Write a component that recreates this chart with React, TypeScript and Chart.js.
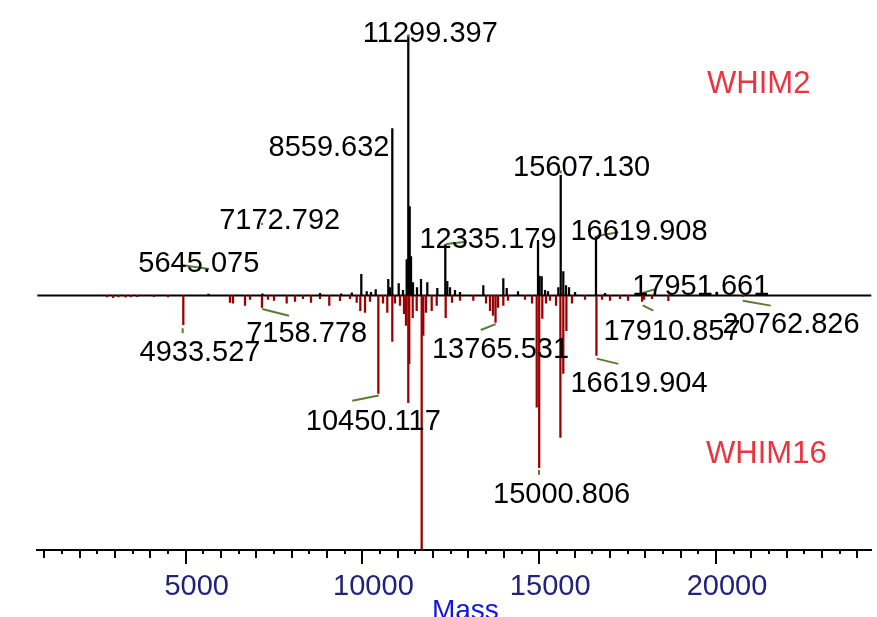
import React, { useEffect, useRef } from "react";
import { Chart, registerables } from "chart.js";

Chart.register(...registerables);

// ---- axis range and tick labels ----
const massMin = 800;
const massMax = 24400;
const intMin = -97.9;
const intMax = 113.65;
const xTickLabels = [5000, 10000, 15000, 20000];
const minorTickStart = 1000;
const minorTickEnd = 24000;
const minorTickStep = 500;

// ---- WHIM2 (upper, black) ----
const whim2Mass = [
  5645, 7172, 8800, 9400, 9700, 9968, 10121, 10242, 10375, 10731, 10780, 10845,
  11026, 11147, 11252, 11297, 11337, 11374, 11430, 11543, 11657, 11835, 12118,
  12344, 12400, 12477, 12618, 12760, 13419, 13985, 14081, 14401, 14967, 15010,
  15071, 15165, 15249, 15541, 15609, 15682, 15758, 15844, 16014, 16607, 16862,
  17951,
];
const whim2Int = [
  0.5, 0.6, 0.8, 0.6, 1.0, 8.1, 1.5, 1.2, 2.3, 6.2, 3.0, 64.2,
  4.6, 2.0, 13.8, 100, 34.2, 15.0, 5.0, 3.0, 6.2, 5.0, 2.7,
  19.6, 5.4, 3.0, 2.0, 1.2, 3.8, 6.5, 2.7, 1.5, 21.2, 7.5,
  7.3, 2.0, 1.5, 3.0, 46.2, 9.2, 3.8, 3.0, 1.2, 22.7, 0.8,
  1.2,
];

// ---- WHIM16 (lower, dark red, mirrored) ----
const whim16Mass = [
  2775, 2950, 3100, 3300, 3450, 3625, 4100, 4500, 4933, 6253, 6338, 6678, 6819,
  7158, 7328, 7498, 7857, 8092, 8318, 8545, 8799, 9062, 9365, 9648, 9838, 9940,
  10073, 10214, 10450, 10582, 10703, 10845, 10921, 11062, 11176, 11232, 11297,
  11325, 11422, 11535, 11676, 11722, 11798, 11959, 12101, 12355, 12534, 12760,
  13136, 13496, 13609, 13694, 13765, 13835, 13985, 14118, 14599, 14797, 14930,
  15000, 15088, 15193, 15306, 15476, 15600, 15682, 15770, 15928, 16296, 16619,
  16777, 17003, 17286, 17513, 17910, 17965, 18192, 18653, 20763,
];
const whim16Int = [
  -0.6, -0.8, -0.6, -0.7, -0.6, -0.5, -0.5, -0.6, -11.2, -2.7, -3.0, -3.8, -1.5,
  -4.6, -1.5, -1.9, -3.0, -2.3, -1.2, -2.7, -1.2, -3.8, -2.0, -1.2, -2.7, -5.8,
  -6.5, -2.3, -37.7, -3.0, -6.5, -17.7, -3.0, -3.8, -7.0, -11.5, -41.2,
  -26.2, -8.5, -5.8, -105, -15.4, -6.5, -5.8, -3.8, -8.5, -2.7, -1.9,
  -1.9, -3.0, -5.8, -7.7, -10.4, -4.6, -3.8, -1.9, -1.5, -3.0, -43.0,
  -66.2, -8.8, -3.0, -1.9, -3.8, -54.6, -30.0, -13.5, -3.0, -1.5, -23.1,
  -1.5, -1.9, -1.2, -1.9, -2.3, -1.5, -1.2, -2.0, -0.4,
];

// ---- peak annotations ----
const labelTexts = [
  "11299.397", "8559.632", "15607.130", "7172.792", "12335.179", "16619.908",
  "5645.075", "17951.661", "20762.826", "17910.857", "16619.904", "13765.531",
  "15000.806", "10450.117", "7158.778", "4933.527",
];
const labelMass = [
  11920, 9054, 16201, 7659, 13552, 17824, 5371, 19570, 22124, 18757, 17824,
  13906, 15634, 10307, 8423, 5405,
];
const labelInt = [
  101.6, 57.5, 49.8, 29.7, 22.2, 25.2, 13.0, 4.0, -10.3, -13.0, -33.2, -19.9,
  -75.7, -47.6, -13.9, -21.3,
];
const leaderMass1 = [
  11297, NaN, 15609, 7150, 12364, 16627, 4887, 17946, 20758, 17929, 16627,
  13346, 14995, 9713, 7167, 4915,
];
const leaderInt1 = [
  100.4, NaN, 48.1, 27.9, 19.8, 22.9, 11.7, 1.1, -2.0, -3.8, -24.3, -13.3,
  -67.1, -40.5, -5.2, -12.6,
];
const leaderMass2 = [
  11303, NaN, 15609, 7167, 12950, 17238, 5659, 18277, 21550, 18229, 17238,
  13770, 14995, 10460, 7922, 4915,
];
const leaderInt2 = [
  99.4, NaN, 46.9, 27.1, 20.7, 24.3, 10.2, 2.4, -3.9, -5.8, -26.3, -11.0,
  -69.0, -38.5, -7.8, -14.5,
];

// ---- series names ----
const seriesNames = ["WHIM2", "WHIM16"];
const seriesNameMass = [19748, 19720];
const seriesNameInt = [77.9, -64.4];
const axisTitle = "Mass";

const FONT = "'Liberation Sans', Arial, sans-serif";

const overlayPlugin = {
  id: "overlay",
  afterDatasetsDraw(chart: any) {
    const ctx = chart.ctx;
    const xs = chart.scales.x;
    const ys = chart.scales.y;
    const area = chart.chartArea;
    ctx.save();

    // axis ticks (three levels)
    ctx.strokeStyle = "#000";
    ctx.lineWidth = 2;
    for (let v = minorTickStart; v <= minorTickEnd; v += minorTickStep) {
      const len = v % 5000 === 0 ? 14 : v % 1000 === 0 ? 8 : 4;
      const px = Math.round(xs.getPixelForValue(v));
      ctx.beginPath();
      ctx.moveTo(px, area.bottom);
      ctx.lineTo(px, area.bottom + len);
      ctx.stroke();
    }

    // leader lines
    ctx.strokeStyle = "#5b7a33";
    ctx.lineWidth = 2;
    for (let i = 0; i < labelTexts.length; i++) {
      if (isNaN(leaderMass1[i])) continue;
      ctx.beginPath();
      ctx.moveTo(xs.getPixelForValue(leaderMass1[i]), ys.getPixelForValue(leaderInt1[i]));
      ctx.lineTo(xs.getPixelForValue(leaderMass2[i]), ys.getPixelForValue(leaderInt2[i]));
      ctx.stroke();
    }

    // peak labels
    ctx.fillStyle = "#000";
    ctx.font = `29px ${FONT}`;
    ctx.textAlign = "center";
    ctx.textBaseline = "alphabetic";
    for (let i = 0; i < labelTexts.length; i++) {
      ctx.fillText(
        labelTexts[i],
        xs.getPixelForValue(labelMass[i]),
        ys.getPixelForValue(labelInt[i]) + 10.4
      );
    }

    // series names
    ctx.fillStyle = "#ec3340";
    ctx.font = `31px ${FONT}`;
    ctx.textAlign = "left";
    for (let i = 0; i < seriesNames.length; i++) {
      ctx.fillText(seriesNames[i], xs.getPixelForValue(seriesNameMass[i]), ys.getPixelForValue(seriesNameInt[i]));
    }

    // axis title
    ctx.fillStyle = "#1414e0";
    ctx.font = `28px ${FONT}`;
    ctx.textAlign = "center";
    ctx.fillText(axisTitle, (area.left + area.right) / 2 + 11, 619);

    ctx.restore();
  },
};

export default function App() {
  const ref = useRef<HTMLCanvasElement>(null);

  useEffect(() => {
    if (!ref.current) return;
    const chart = new Chart(ref.current, {
      type: "bar",
      data: {
        datasets: [
          {
            type: "bar",
            label: "WHIM2",
            data: whim2Mass.map((m, i) => ({ x: m, y: whim2Int[i] })),
            backgroundColor: "#000000",
            borderWidth: 0,
            barThickness: 1.6,
            grouped: false,
          } as any,
          {
            type: "bar",
            label: "WHIM16",
            data: whim16Mass.map((m, i) => ({ x: m, y: whim16Int[i] })),
            backgroundColor: "#9a0000",
            borderWidth: 0,
            barThickness: 1.6,
            grouped: false,
          } as any,
          {
            type: "line",
            label: "baseline",
            data: [
              { x: massMin, y: 0 },
              { x: massMax, y: 0 },
            ],
            borderColor: "#000000",
            borderWidth: 2,
            pointRadius: 0,
          } as any,
        ],
      },
      options: {
        responsive: false,
        animation: false,
        devicePixelRatio: 1,
        layout: { padding: { left: 37.2, right: 5.5, top: 0, bottom: 0 } },
        plugins: {
          legend: { display: false },
          tooltip: { enabled: false },
          title: { display: false },
        },
        scales: {
          x: {
            type: "linear",
            min: massMin,
            max: massMax,
            offset: false,
            afterBuildTicks: (axis: any) => {
              axis.ticks = xTickLabels.map((v) => ({ value: v }));
            },
            afterFit: (axis: any) => {
              axis.height = 67;
            },
            grid: { display: true, drawOnChartArea: false, drawTicks: false },
            border: { display: true, color: "#000", width: 2 },
            ticks: {
              autoSkip: false,
              maxRotation: 0,
              padding: 20,
              labelOffset: 11,
              color: "#22227a",
              font: { family: FONT, size: 29 },
              callback: (v: any) => String(v),
            },
          },
          y: {
            type: "linear",
            display: false,
            min: intMin,
            max: intMax,
          },
        },
      },
      plugins: [overlayPlugin],
    } as any);
    return () => chart.destroy();
  }, []);

  return (
    <div style={{ position: "absolute", left: 0, top: 0, width: 877, height: 617, background: "#fff" }}>
      <canvas ref={ref} width={877} height={617} style={{ width: 877, height: 617 }} />
    </div>
  );
}
